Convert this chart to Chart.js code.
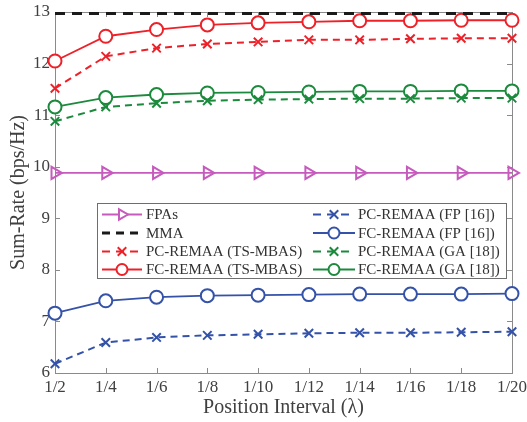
<!DOCTYPE html>
<html>
<head>
<meta charset="utf-8">
<script src="https://cdn.jsdelivr.net/npm/chart.js@4.4.1/dist/chart.umd.min.js"></script>
<style>
  html, body { margin: 0; padding: 0; background: #fff; }
  #wrap { width: 527px; height: 422px; }
</style>
</head>
<body>
<div id="wrap"><canvas id="rateChart" width="527" height="422"></canvas></div>
<script>
// position intervals (x axis)
const intervals = ['1/2', '1/4', '1/6', '1/8', '1/10', '1/12', '1/14', '1/16', '1/18', '1/20'];

// sum-rate values (bps/Hz)
const fpas     = [9.88, 9.88, 9.88, 9.88, 9.88, 9.88, 9.88, 9.88, 9.88, 9.88];
const mma      = [12.97, 12.97, 12.97, 12.97, 12.97, 12.97, 12.97, 12.97, 12.97, 12.97];
const pcTsMbas = [11.52, 12.14, 12.30, 12.38, 12.42, 12.46, 12.46, 12.48, 12.49, 12.49];
const fcTsMbas = [12.05, 12.53, 12.66, 12.75, 12.79, 12.81, 12.83, 12.83, 12.84, 12.84];
const pcFp     = [6.18, 6.59, 6.69, 6.73, 6.75, 6.77, 6.78, 6.78, 6.79, 6.80];
const fcFp     = [7.16, 7.40, 7.47, 7.50, 7.51, 7.52, 7.53, 7.53, 7.53, 7.54];
const pcGa     = [10.88, 11.16, 11.23, 11.28, 11.30, 11.31, 11.32, 11.32, 11.33, 11.33];
const fcGa     = [11.16, 11.34, 11.40, 11.43, 11.44, 11.45, 11.46, 11.46, 11.47, 11.47];

const RED = '#ee2028', GREEN = '#1b8a3c', BLUE = '#3452a8', PINK = '#c65bbd', BLACK = '#1a1a1a';
const SERIF = '"Liberation Serif", "Times New Roman", serif';

function series(label, data, color, dashed, marker) {
  const ds = {
    label: label,
    data: data,
    borderColor: color,
    borderWidth: dashed ? 2 : 1.8,
    borderDash: dashed ? [7, 5] : [],
    backgroundColor: 'rgba(255,255,255,0)',
    pointBorderColor: color,
    pointBorderWidth: 2,
    pointStyle: marker || false,
    pointRadius: marker ? 6 : 0,
    pointBackgroundColor: 'rgba(255,255,255,0)',
    tension: 0,
    clip: false
  };
  if (marker === 'triangle') { ds.pointRotation = 90; ds.pointRadius = 7; }
  if (marker === 'circle') { ds.pointBackgroundColor = '#fff'; ds.pointRadius = 6.5; }
  return ds;
}

const datasets = [
  series('FPAs', fpas, PINK, false, 'triangle'),
  series('MMA', mma, BLACK, true, null),
  series('PC-REMAA (TS-MBAS)', pcTsMbas, RED, true, 'crossRot'),
  series('FC-REMAA (TS-MBAS)', fcTsMbas, RED, false, 'circle'),
  series('PC-REMAA (FP [16])', pcFp, BLUE, true, 'crossRot'),
  series('FC-REMAA (FP [16])', fcFp, BLUE, false, 'circle'),
  series('PC-REMAA (GA [18])', pcGa, GREEN, true, 'crossRot'),
  series('FC-REMAA (GA [18])', fcGa, GREEN, false, 'circle')
];
datasets[1].borderWidth = 3;
datasets[1].borderDash = [10, 7];

// box around the plot and inward tick marks
const framePlugin = {
  id: 'frame',
  beforeDatasetsDraw(chart) {
    const { ctx, chartArea: a, scales } = chart;
    ctx.save();
    ctx.strokeStyle = '#8a8a8a';
    ctx.lineWidth = 1;
    ctx.strokeRect(a.left + 0.5, a.top + 0.5, a.right - a.left, a.bottom - a.top);
    scales.y.ticks.forEach((t, i) => {
      const y = Math.round(scales.y.getPixelForTick(i)) + 0.5;
      ctx.beginPath();
      ctx.moveTo(a.left, y); ctx.lineTo(a.left + 5, y);
      ctx.moveTo(a.right, y); ctx.lineTo(a.right - 5, y);
      ctx.stroke();
    });
    scales.x.ticks.forEach((t, i) => {
      const x = Math.round(scales.x.getPixelForTick(i)) + 0.5;
      ctx.beginPath();
      ctx.moveTo(x, a.bottom); ctx.lineTo(x, a.bottom - 5);
      ctx.moveTo(x, a.top); ctx.lineTo(x, a.top + 5);
      ctx.stroke();
    });
    ctx.restore();
  }
};

// two-column legend box inside the plot
const legendPlugin = {
  id: 'boxLegend',
  afterDraw(chart) {
    const ctx = chart.ctx;
    const box = { x: 97.5, y: 203.5, w: 409, h: 75 };
    const rows = [214.5, 233, 251.5, 269.5];
    const cols = [{ x1: 102, x2: 142, tx: 146 }, { x1: 313, x2: 355, tx: 358 }];
    ctx.save();
    ctx.fillStyle = '#fff';
    ctx.fillRect(box.x, box.y, box.w, box.h);
    ctx.strokeStyle = '#6e6e6e';
    ctx.lineWidth = 1;
    ctx.strokeRect(box.x, box.y, box.w, box.h);
    chart.data.datasets.forEach((ds, i) => {
      const c = cols[Math.floor(i / 4)];
      const y = rows[i % 4];
      ctx.strokeStyle = ds.borderColor;
      ctx.lineWidth = ds.borderWidth;
      ctx.setLineDash(ds.borderDash.length ? [8, 6] : []);
      ctx.beginPath();
      ctx.moveTo(c.x1, y); ctx.lineTo(c.x2, y);
      ctx.stroke();
      ctx.setLineDash([]);
      if (ds.pointStyle) {
        ctx.lineWidth = 2;
        ctx.fillStyle = '#fff';
        Chart.helpers.drawPoint(ctx, {
          pointStyle: ds.pointStyle,
          rotation: ds.pointRotation || 0,
          radius: ds.pointStyle === 'circle' ? 5.5 : 6,
          borderWidth: 2
        }, (c.x1 + c.x2) / 2, y);
      }
      ctx.fillStyle = '#333';
      ctx.font = '15px ' + SERIF;
      ctx.textBaseline = 'middle';
      ctx.fillText(ds.label, c.tx, y + 1);
    });
    ctx.restore();
  }
};

new Chart(document.getElementById('rateChart'), {
  type: 'line',
  data: { labels: intervals, datasets: datasets },
  options: {
    responsive: false,
    animation: false,
    layout: { padding: { top: 12, right: 15, left: 0, bottom: 0 } },
    plugins: { legend: { display: false }, tooltip: { enabled: false } },
    scales: {
      x: {
        offset: false,
        grid: { display: false, drawTicks: false },
        border: { display: false },
        ticks: { color: '#404040', font: { family: SERIF, size: 17 }, padding: 4, maxRotation: 0, autoSkip: false },
        title: { display: true, text: 'Position Interval (\u03bb)', color: '#404040', font: { family: SERIF, size: 20 }, padding: { top: 0, bottom: 2 } },
        afterFit(scale) { scale.height = 49; scale.paddingLeft = 0; scale.paddingRight = 0; }
      },
      y: {
        min: 6,
        max: 13,
        grid: { display: false, drawTicks: false },
        border: { display: false },
        ticks: { stepSize: 1, color: '#404040', font: { family: SERIF, size: 17 }, padding: 5 },
        title: { display: true, text: 'Sum-Rate (bps/Hz)', color: '#404040', font: { family: SERIF, size: 20 }, padding: { top: 7, bottom: 0 } },
        afterFit(scale) { scale.width = 55; scale.paddingTop = 0; scale.paddingBottom = 0; }
      }
    }
  },
  plugins: [framePlugin, legendPlugin]
});
</script>
</body>
</html>
